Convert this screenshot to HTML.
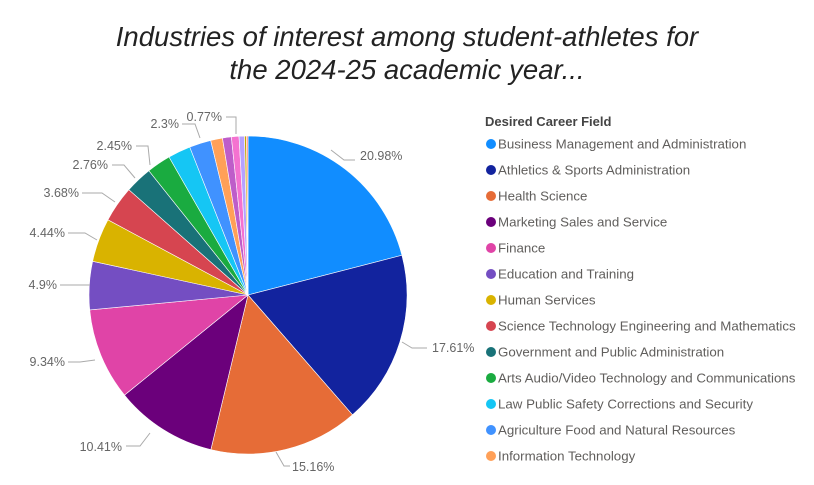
<!DOCTYPE html>
<html><head><meta charset="utf-8"><style>
body{margin:0;width:814px;height:485px;background:#fff;overflow:hidden;font-family:"Liberation Sans",sans-serif}
.t{position:absolute;left:0;width:814px;text-align:center;font-style:italic;font-size:27.5px;color:#222;line-height:33px}
</style></head><body>
<div class="t" style="top:20px">Industries of interest among student-athletes for<br>the 2024-25 academic year...</div>
<svg width="814" height="485" style="position:absolute;left:0;top:0">
<g id="pie"></g>
<g fill="none" stroke="#aaa" stroke-width="1">
<polyline points="331,150 344,160 355,160"/>
<polyline points="402,342 412,348 427,348"/>
<polyline points="276,452 284,466 290,466"/>
<polyline points="150,433 140,446 126,446"/>
<polyline points="95,360 80,362 68,362"/>
<polyline points="90,285 70,285 60,285"/>
<polyline points="97,240 85,233 68,233"/>
<polyline points="115,202 102,193 82,193"/>
<polyline points="135,178 124,165 112,165"/>
<polyline points="150,165 148,146 136,146"/>
<polyline points="200,138 195,124 182,124"/>
<polyline points="236,134 236,117 226,117"/>
</g>
<g font-size="12.5" fill="#666">
<text x="360" y="160">20.98%</text>
<text x="432" y="352">17.61%</text>
<text x="292" y="471">15.16%</text>
<text x="122" y="451" text-anchor="end">10.41%</text>
<text x="65" y="366" text-anchor="end">9.34%</text>
<text x="57" y="289" text-anchor="end">4.9%</text>
<text x="65" y="237" text-anchor="end">4.44%</text>
<text x="79" y="197" text-anchor="end">3.68%</text>
<text x="108" y="169" text-anchor="end">2.76%</text>
<text x="132" y="150" text-anchor="end">2.45%</text>
<text x="179" y="128" text-anchor="end">2.3%</text>
<text x="222" y="121" text-anchor="end">0.77%</text>
</g>
<text x="485" y="126" font-size="13" font-weight="bold" fill="#444">Desired Career Field</text>
<g id="leg" font-size="13.3" fill="#605E5C"></g>
</svg>
<script>
var v=[20.98,17.61,15.16,10.41,9.34,4.9,4.44,3.68,2.76,2.45,2.3,2.2,1.2,0.9,0.77,0.55,0.2,0.15];
var c=["#118DFF","#12239E","#E66C37","#6B007B","#E044A7","#744EC2","#D9B300","#D64550","#197278","#1AAB40","#15C6F4","#4092FF","#FFA058","#BE5DC9","#F472D0","#B5A1FF","#C4A200","#FF8080"];
var s=v.reduce((a,b)=>a+b,0),cx=248,cy=295,r=159,a=0,h="";
v.forEach((x,i)=>{var a0=a;a+=x/s*2*Math.PI;
var x0=cx+r*Math.sin(a0),y0=cy-r*Math.cos(a0),x1=cx+r*Math.sin(a),y1=cy-r*Math.cos(a);
h+='<path d="M'+cx+','+cy+'L'+x0+','+y0+'A'+r+','+r+' 0 '+(a-a0>Math.PI?1:0)+' 1 '+x1+','+y1+'Z" fill="'+c[i]+'" stroke="#fff" stroke-width="0.6"/>';});
document.getElementById('pie').innerHTML=h;
var n=["Business Management and Administration","Athletics &amp; Sports Administration","Health Science","Marketing Sales and Service","Finance","Education and Training","Human Services","Science Technology Engineering and Mathematics","Government and Public Administration","Arts Audio/Video Technology and Communications","Law Public Safety Corrections and Security","Agriculture Food and Natural Resources","Information Technology"];
var l="";n.forEach((t,i)=>{var y=144+i*26;l+='<circle cx="491" cy="'+y+'" r="5" fill="'+c[i]+'"/><text x="498" y="'+(y+4.5)+'">'+t+'</text>';});
document.getElementById('leg').innerHTML=l;
</script>
</body></html>
